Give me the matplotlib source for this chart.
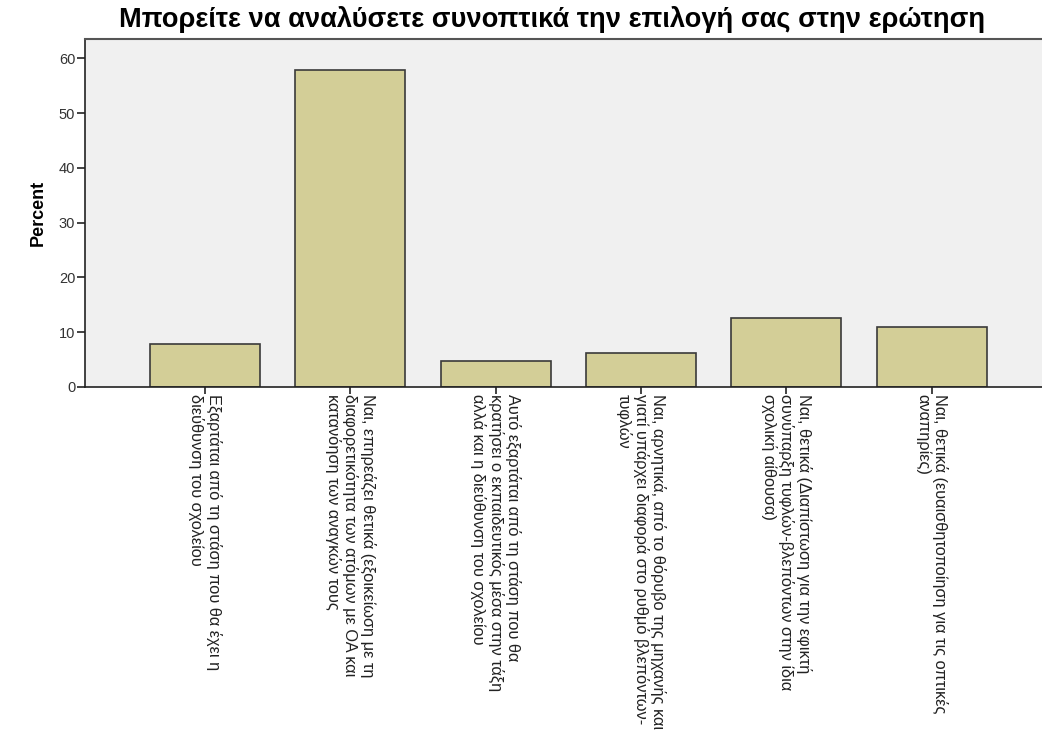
import matplotlib.pyplot as plt
import numpy as np

# SPSS-style bar chart: percent of answers per category
categories = [
    'Εξαρτάται από τη στάση που θα έχει η\nδιεύθυνση του σχολείου',
    'Ναι, επηρεάζει θετικά (εξοικείωση με τη\nδιαφορετικότητα των ατόμων με ΟΑ και\nκατανόηση των αναγκών τους',
    'Αυτό εξαρτάται από τη στάση που θα\nκρατήσει ο εκπαιδευτικός μέσα στην τάξη\nαλλά και η διεύθυνση του σχολείου',
    'Ναι, αρνητικά, από το θόρυβο της μηχανής και\nγιατί υπάρχει διαφορά στο ρυθμό βλεπόντων-\nτυφλών',
    'Ναι, θετικά (Διαπίστωση για την εφικτή\nσυνύπαρξη τυφλών-βλεπόντων στην ίδια\nσχολική αίθουσα)',
    'Ναι, θετικά (ευαισθητοποίηση για τις οπτικές\nαναπηρίες)',
]
percent = [7.8, 57.8, 4.7, 6.25, 12.5, 10.9]
yticks = [0, 10, 20, 30, 40, 50, 60]
title = 'Μπορείτε να αναλύσετε συνοπτικά την επιλογή σας στην ερώτηση'

# Styles:
bgColour = '#f0f0f0'
barColour = '#d3ce97'
edgeColour = '#3a3a3a'
plt.rcParams['font.family'] = ['Liberation Sans', 'DejaVu Sans']

fig = plt.figure(figsize=(10.42, 7.31), dpi=100)
ax = fig.add_axes([0.0816, 0.4706, 0.9184, 0.476])
ax.set_facecolor(bgColour)

x = np.arange(len(categories))
ax.bar(x, percent, width=0.757, color=barColour, edgecolor=edgeColour, linewidth=1.2)

ax.set_xlim(-0.826, 5.76)
ax.set_ylim(0, 63.5)
ax.set_yticks(yticks)
ax.set_yticklabels([str(v) for v in yticks], fontsize=10.5, color='#333333')
ax.set_xticks(x)
ax.set_xticklabels(categories, rotation=-90, ha='center', va='top',
                   multialignment='left', fontsize=11.8, color='#222222',
                   linespacing=1.1)
ax.tick_params(axis='x', length=5, width=1.2, pad=0, color='#222222')
ax.tick_params(axis='y', length=6, width=1.2, pad=1, color='#222222')

for side in ['left', 'bottom']:
    ax.spines[side].set_linewidth(1.2)
    ax.spines[side].set_color('#222222')
ax.spines['top'].set_linewidth(1.5)
ax.spines['top'].set_color('#555555')
ax.spines['right'].set_visible(False)

ax.set_ylabel('Percent', fontsize=13, fontweight='bold', labelpad=9)
fig.text(0.114, 0.974, title, fontsize=19.6, fontweight='bold', ha='left', va='center')

plt.savefig('out.png', dpi=100)
